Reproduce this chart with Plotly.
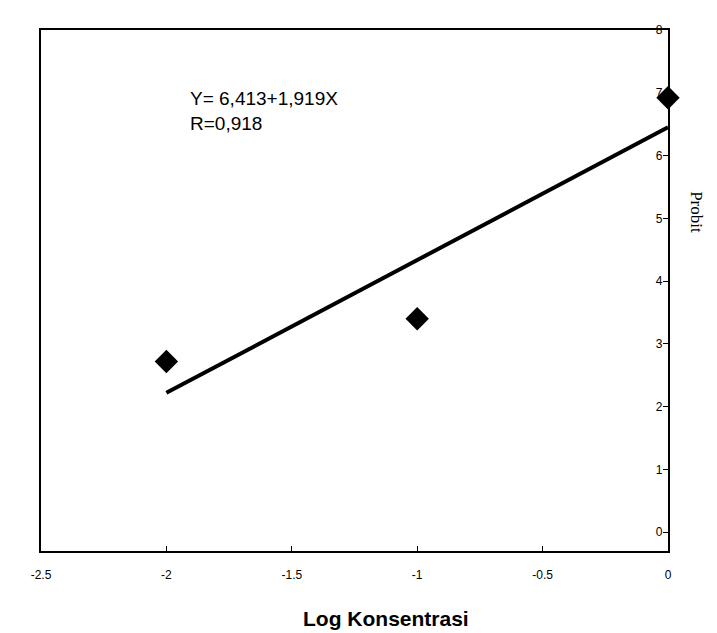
import plotly.graph_objects as go

# Data
log_konsentrasi = [-2, -1, 0]
probit = [2.72, 3.4, 6.92]

# Regression line endpoints (Y = 6,413 + 1,919X as drawn)
line_x = [-2, 0]
line_y = [2.22, 6.45]

x_ticks = [-2.5, -2, -1.5, -1, -0.5, 0]
x_tick_labels = ["-2.5", "-2", "-1.5", "-1", "-0.5", "0"]
y_ticks = [0, 1, 2, 3, 4, 5, 6, 7, 8]

tick_font = dict(size=12, color="black",
                 family="Liberation Sans Narrow, Arial Narrow, Liberation Sans")

fig = go.Figure()
fig.add_trace(go.Scatter(x=line_x, y=line_y, mode="lines",
                         line=dict(color="black", width=4), showlegend=False))
fig.add_trace(go.Scatter(x=log_konsentrasi, y=probit, mode="markers",
                         marker=dict(symbol="diamond", size=18, color="black"),
                         showlegend=False, cliponaxis=False))

fig.update_layout(
    width=717, height=633,
    margin=dict(l=33, r=57, t=22, b=90),
    plot_bgcolor="white", paper_bgcolor="white",
    font=dict(family="Liberation Sans, Arial", color="black"),
    xaxis=dict(range=[-2.5, 0], tickvals=x_ticks, ticktext=x_tick_labels,
               ticks="inside", ticklen=5, tickcolor="black",
               ticklabeloverflow="allow", ticklabelstandoff=12,
               showline=True, linecolor="black", linewidth=2, mirror=True,
               showgrid=False, zeroline=False, tickfont=tick_font),
    yaxis=dict(range=[-0.3, 8], tickvals=y_ticks, side="right",
               ticks="inside", ticklen=5, tickcolor="black",
               ticklabelposition="inside", ticklabeloverflow="allow",
               showline=True, linecolor="black", linewidth=2, mirror=True,
               showgrid=False, zeroline=False, tickfont=tick_font),
    annotations=[
        dict(text="<b>Log Konsentrasi</b>", xref="paper", yref="paper", x=0.55, y=-0.13,
             xanchor="center", yanchor="middle", showarrow=False,
             font=dict(size=21, family="Liberation Sans, Arial", color="black")),
        dict(text="Probit", xref="paper", yref="paper", x=1.045, y=0.65,
             xanchor="center", yanchor="middle", showarrow=False, textangle=90,
             font=dict(size=17, family="Liberation Serif, Times New Roman", color="black")),
        dict(text="Y= 6,413+1,919X<br>R=0,918", xref="paper", yref="paper",
             x=0.235, y=0.845, xanchor="left", yanchor="middle", align="left",
             showarrow=False, font=dict(size=19, family="Liberation Sans, Arial", color="black")),
    ],
)

fig.write_html("out.html")
